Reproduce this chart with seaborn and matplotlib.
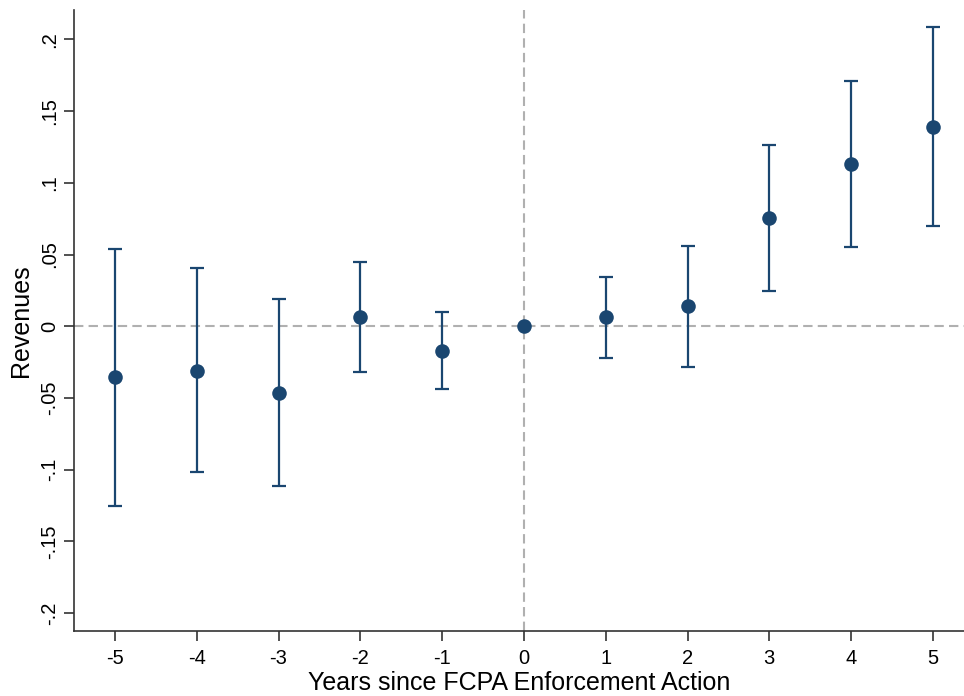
import matplotlib
matplotlib.use("Agg")
import matplotlib.pyplot as plt
import seaborn as sns
import numpy as np
import pandas as pd

years = [-5, -4, -3, -2, -1, 0, 1, 2, 3, 4, 5]
coef = [-0.0354, -0.0310, -0.0465, 0.0065, -0.0172, 0.0, 0.0065, 0.0140, 0.0755, 0.1132, 0.1392]
ci_low = [-0.1250, -0.1018, -0.1115, -0.0318, -0.0435, 0.0, -0.0220, -0.0283, 0.0245, 0.0550, 0.0700]
ci_high = [0.0542, 0.0403, 0.0188, 0.0450, 0.0098, 0.0, 0.0342, 0.0563, 0.1265, 0.1712, 0.2085]

ytick_vals = [-0.2, -0.15, -0.1, -0.05, 0, 0.05, 0.1, 0.15, 0.2]
ytick_labels = ["-.2", "-.15", "-.1", "-.05", "0", ".05", ".1", ".15", ".2"]
xtick_vals = [-5, -4, -3, -2, -1, 0, 1, 2, 3, 4, 5]

df = pd.DataFrame({"year": years, "coef": coef, "lo": ci_low, "hi": ci_high})

sns.set_style("white")
plt.rcParams["font.family"] = ["Liberation Sans", "DejaVu Sans"]
plt.rcParams["text.color"] = "black"
plt.rcParams["axes.labelcolor"] = "black"
plt.rcParams["xtick.color"] = "black"
plt.rcParams["ytick.color"] = "black"

color = "#1a4670"
fig = plt.figure(figsize=(9.64, 6.96), dpi=100)
ax = fig.add_axes([0.0768, 0.0934, 0.9232, 0.8922])

ax.axhline(0, color="#b0b0b0", linestyle=(0, (4.5, 2.5)), linewidth=1.5, zorder=1)
ax.axvline(0, color="#b0b0b0", linestyle=(0, (4.5, 2.5)), linewidth=1.5, zorder=1)

err = df[df["year"] != 0]
ax.errorbar(err["year"], err["coef"],
            yerr=[err["coef"] - err["lo"], err["hi"] - err["coef"]],
            fmt="none", ecolor=color, elinewidth=1.6, capsize=4.7, capthick=1.6, zorder=2)
sns.scatterplot(data=df, x="year", y="coef", color=color, s=110, edgecolor=color,
                linewidth=0, zorder=3, ax=ax)

ax.set_xlim(-5.5, 5.38)
ax.set_ylim(-0.2125, 0.2205)
ax.set_yticks(ytick_vals)
ax.set_yticklabels(ytick_labels, rotation=90, va="center")
ax.set_xticks(xtick_vals)
ax.set_xticklabels([str(v) for v in xtick_vals])
ax.tick_params(axis="both", direction="out", length=7, width=1.2, color="#333333",
               labelcolor="black", labelsize=14.5, pad=6, left=True, bottom=True)
ax.tick_params(axis="y", pad=4)

ax.set_xlabel("Years since FCPA Enforcement Action", fontsize=18, labelpad=2, color="black")
ax.set_ylabel("Revenues", fontsize=18, labelpad=5, color="black")

for s in ["top", "right"]:
    ax.spines[s].set_visible(False)
for s in ["left", "bottom"]:
    ax.spines[s].set_color("#333333")
    ax.spines[s].set_linewidth(1.2)

fig.savefig("out.png", dpi=100)
